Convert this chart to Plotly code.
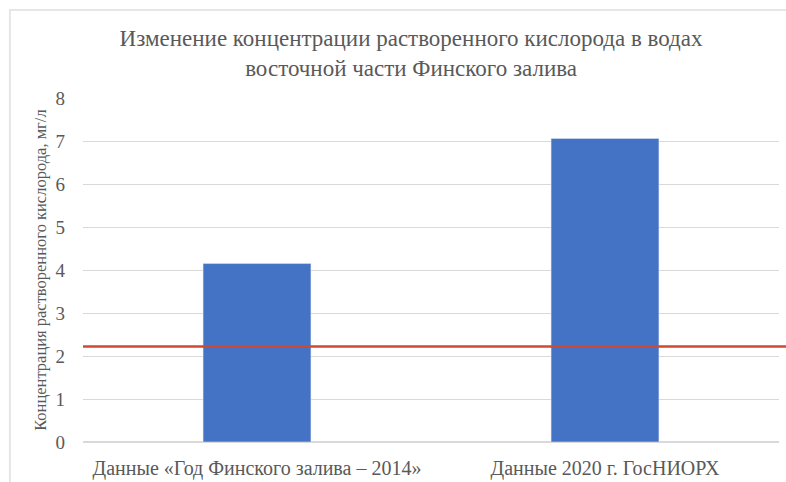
import plotly.graph_objects as go

categories = ["Данные «Год Финского залива – 2014»", "Данные 2020 г. ГосНИОРХ"]
values = [4.15, 7.06]
threshold = 2.22
y_ticks = [0, 1, 2, 3, 4, 5, 6, 7, 8]
title_text = "Изменение концентрации растворенного кислорода в водах<br>восточной части Финского залива"
y_title = "Концентрация растворенного кислорода, мг/л"

FONT = "Liberation Serif"
GREY = "#595959"

fig = go.Figure()
fig.add_trace(go.Bar(x=categories, y=values, marker_color="#4472C4", width=0.31, showlegend=False))

fig.add_shape(type="line", xref="paper", yref="y", x0=0, x1=1.03, y0=threshold, y1=threshold,
              line=dict(color="#D04A32", width=2.5))
fig.add_shape(type="rect", xref="paper", yref="paper", x0=-0.105, x1=1.05, y0=-0.3, y1=1.256,
              line=dict(color="#E6E6E6", width=2), layer="below")

fig.update_layout(
    width=786, height=482,
    margin=dict(l=83, r=7, t=98, b=40),
    paper_bgcolor="white", plot_bgcolor="white",
    font=dict(family=FONT, color=GREY),
    title=dict(text=title_text, x=0.523, xanchor="center", xref="container",
               y=1 - 46 / 482, yanchor="top", yref="container",
               font=dict(family=FONT, size=23, color=GREY)),
    bargap=0.69,
)
fig.update_xaxes(showline=True, linecolor="#D9D9D9", linewidth=1, ticks="", automargin=False,
                 tickfont=dict(family=FONT, size=20, color=GREY), ticklabelstandoff=8)
fig.update_yaxes(range=[0, 8], tickvals=y_ticks, showgrid=True, gridcolor="#D9D9D9", gridwidth=1,
                 zeroline=True, zerolinecolor="#D9D9D9", showline=False, automargin=False,
                 tickfont=dict(family=FONT, size=19, color=GREY), ticklabelstandoff=17)
fig.add_annotation(text=y_title, textangle=-90, xref="paper", yref="paper",
                   x=-0.062, y=0.5, xanchor="center", yanchor="middle", showarrow=False,
                   font=dict(family=FONT, size=16.5, color=GREY))

fig.write_html("out.html")
